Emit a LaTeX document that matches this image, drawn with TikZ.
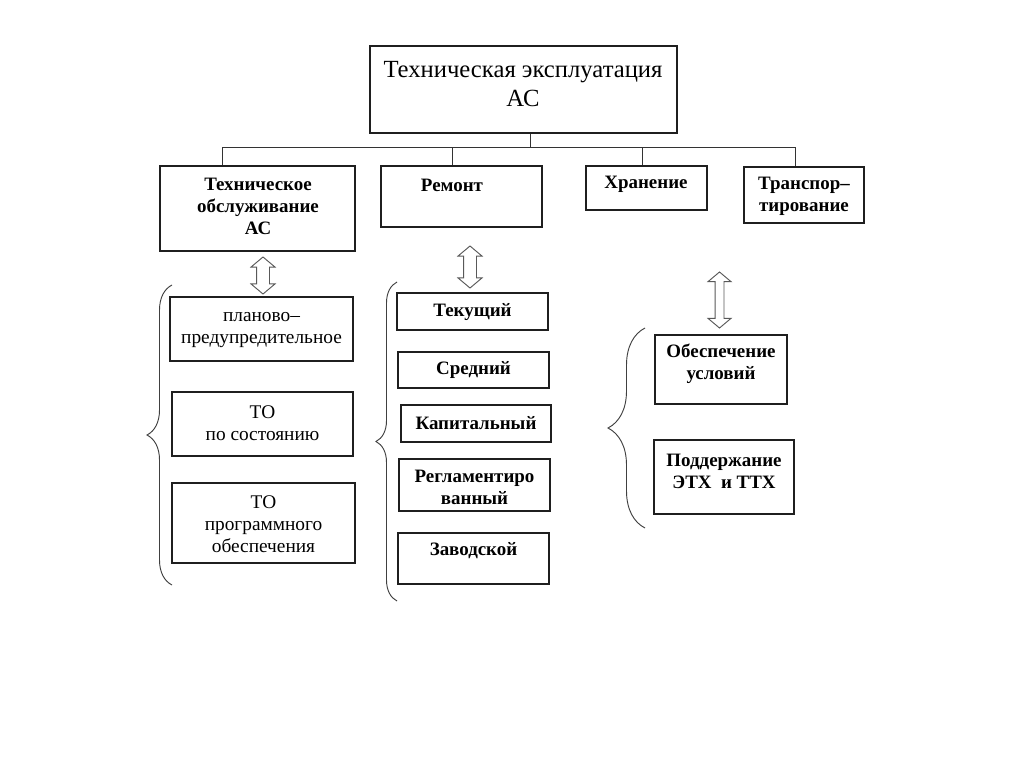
\documentclass[tikz,border=0pt]{standalone}
\usepackage{fontspec}
\setmainfont{Liberation Serif}
\usetikzlibrary{shapes.arrows,decorations.pathreplacing}
\newcommand\boxat[5]{\node[box,minimum width={(#4-#2)*0.75pt},minimum height={(#5-#3)*0.75pt}] (#1) at ({(#2+#4)/2},{(#3+#5)/2}) {};}
\tikzset{
  box/.style={draw=black!88,line width=0.9pt,fill=white,inner sep=0pt},
  toptxt/.style={align=center,font=\fontsize{18.5}{21.75}\selectfont,inner sep=0pt},
  btxt/.style={align=center,font=\fontsize{14.2}{16.5}\selectfont\bfseries,inner sep=0pt},
  rtxt/.style={align=center,font=\fontsize{14.5}{16.5}\selectfont,inner sep=0pt},
  link/.style={draw=black!80,line width=0.7pt},
  dblarrow/.style={double arrow,draw=black!65,line width=0.7pt,fill=white,rotate=90,inner xsep=0pt,
    double arrow tip angle=100,double arrow head indent=0pt},
  brace/.style={draw=black!75,line width=0.7pt,decorate,decoration={brace,aspect=0.5,amplitude=#1}},
}
\begin{document}
\begin{tikzpicture}[x=0.75pt,y=-0.75pt]
\useasboundingbox[fill=white] (0,0) rectangle (1024,767);
% top
\boxat{top}{370}{46}{677}{133}
\node[toptxt] (topt) at (523,84) {Техническая эксплуатация\\АС};
% second row
\boxat{b1}{160}{166}{355}{251}
\boxat{b2}{381}{166}{542}{227}
\boxat{b3}{586}{166}{707}{210}
\boxat{b4}{744}{167}{864}{223}
\node[btxt] (b1t) at (258,206) {Техническое\\обслуживание\\АС};
\node[btxt] (b2t) at (452,185) {Ремонт};
\node[btxt] (b3t) at (646,184) {Хранение};
\node[btxt] (b4t) at (804,196) {Транспор–\\тирование};
% bus
\coordinate (bus) at (530,147);
\coordinate (j1) at (222,147);
\coordinate (j2) at (452,147);
\coordinate (j3) at (642,147);
\coordinate (j4) at (795,147);
\draw[link] (top.south -| bus) -- (bus);
\draw[link] (j1) -- (j4);
\draw[link] (j1) -- (j1 |- b1.north);
\draw[link] (j2) -- (j2 |- b2.north);
\draw[link] (j3) -- (j3 |- b3.north);
\draw[link] (j4) -- (j4 |- b4.north);
% arrows
\node[dblarrow,minimum height={37*0.75pt},inner ysep={6*0.75pt},double arrow head extend={5.5*0.75pt}] (a1) at (263,275.5) {};
\node[dblarrow,minimum height={42*0.75pt},inner ysep={6*0.75pt},double arrow head extend={5.5*0.75pt}] (a2) at (470,267) {};
\node[dblarrow,minimum height={56*0.75pt},inner ysep={4*0.75pt},double arrow head extend={7*0.75pt}] (a3) at (719.5,300) {};
% left group
\boxat{l1}{170}{297}{353}{361}
\boxat{l2}{172}{392}{353}{456}
\boxat{l3}{172}{483}{355}{563}
\node[rtxt] (l1t) at (261.5,330) {планово–\\предупредительное};
\node[rtxt] (l2t) at (262.5,423) {ТО\\по состоянию};
\node[rtxt] (l3t) at (263.5,524) {ТО\\программного\\обеспечения};
\coordinate (lb1) at (172,585);
\coordinate (lb2) at (172,285);
\draw[brace={25*0.75pt}] (lb1) -- (lb2);
% middle group
\boxat{m1}{397}{293}{548}{330}
\boxat{m2}{398}{352}{549}{388}
\boxat{m3}{401}{405}{551}{442}
\boxat{m4}{399}{459}{550}{511}
\boxat{m5}{398}{533}{549}{584}
\node[btxt] (m1t) at (472.5,312) {Текущий};
\node[btxt] (m2t) at (473.5,370) {Средний};
\node[btxt] (m3t) at (476,423) {Капитальный};
\node[btxt] (m4t) at (474.5,487) {Регламентиро\\ванный};
\node[btxt] (m5t) at (473.5,551) {Заводской};
\coordinate (mb1) at (397,601);
\coordinate (mb2) at (397,282);
\draw[brace={21*0.75pt}] (mb1) -- (mb2);
% right group
\boxat{r1}{655}{335}{787}{404}
\boxat{r2}{654}{440}{794}{514}
\node[btxt] (r1t) at (721,364) {Обеспечение\\условий};
\node[btxt] (r2t) at (724,471) {Поддержание\\ЭТХ \ и ТТХ};
\coordinate (rb1) at (645,528);
\coordinate (rb2) at (645,328);
\draw[brace={37*0.75pt}] (rb1) -- (rb2);
\end{tikzpicture}
\end{document}
